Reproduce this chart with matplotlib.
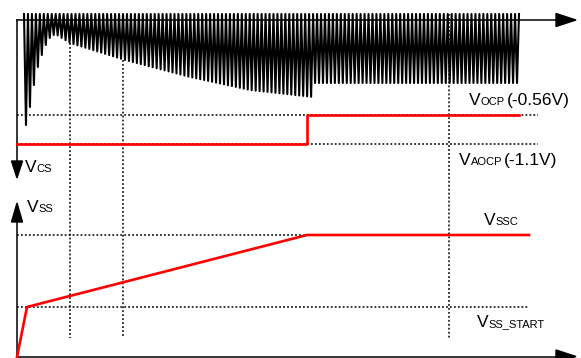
import numpy as np
import matplotlib.pyplot as plt

plt.rcParams['font.family'] = ['Liberation Sans', 'DejaVu Sans']

# Diagram units are pixels of the 581 x 358 picture (y grows downward)
W, H = 581, 358

# Axes of the two traces
x_origin = 17
x_axis_end = 576
y_cs_axis = 20           # time axis of V_CS (V_CS grows downward)
y_cs_arrow = 178
y_ss_axis = 357          # time axis of V_SS
y_ss_arrow = 203

# V_CS switching waveform
cs_start, cs_end = 24, 519
n_pulses = 125
cs_peak = 14
first_troughs = [125, 107, 85, 67, 55, 45, 38, 35]   # the deep first pulses
env_x = [57, 70, 125, 190, 250, 313]                  # trough envelope, soft start
env_y = [35, 43, 60, 77, 90, 97]
t_switch = 315                                        # after this: OCP level
trough_after = 83

# Protection levels
y_ocp = 115
y_aocp = 144
x_ocp_step = 307
x_ocp_end = 519
x_dot_end_top = 538

# Soft-start voltage
ss_t = [17, 27, 307, 529]
ss_v = [357, 307, 235, 235]
y_ssc = 235
y_ss_start = 307
x_dot_end_bot = 529

# Vertical markers
mark_x = [70, 123, 449]
mark_top = [43, 60, 14]
mark_bottom = 338

fig = plt.figure(figsize=(W / 100, H / 100), dpi=100)
ax = fig.add_axes([0, 0, 1, 1])
ax.set_xlim(0, W)
ax.set_ylim(H, 0)
ax.axis('off')

# axes with arrows
ax.plot([x_origin, 557], [y_cs_axis, y_cs_axis], color='black', lw=1.1, zorder=3)
ax.plot([x_origin, x_origin], [y_cs_axis, 162], color='black', lw=1.1, zorder=3)
ax.plot([x_origin, 557], [y_ss_axis - 0.5, y_ss_axis - 0.5], color='black', lw=1.1, zorder=3)
ax.plot([x_origin, x_origin], [y_ss_axis, 222], color='black', lw=1.1, zorder=3)
arrows = [
    [(x_axis_end, y_cs_axis), (556, 13.5), (556, 26.5)],
    [(x_origin, y_cs_arrow), (x_origin - 5.5, 161), (x_origin + 5.5, 161)],
    [(x_origin, y_ss_arrow), (x_origin - 5.5, 222), (x_origin + 5.5, 222)],
    [(x_axis_end, y_ss_axis - 0.5), (556, 350), (556, 363)],
]
for tri in arrows:
    ax.add_patch(plt.Polygon(tri, closed=True, color='black', zorder=3))

# dotted guides
dot = dict(color='black', lw=1.1, linestyle=(0, (1.2, 1.4)), zorder=1)
ax.plot([x_origin, x_dot_end_top], [y_ocp, y_ocp], **dot)
ax.plot([x_origin, x_dot_end_top], [y_aocp, y_aocp], **dot)
ax.plot([x_origin, x_dot_end_bot], [y_ssc, y_ssc], **dot)
ax.plot([x_origin, x_dot_end_bot], [y_ss_start, y_ss_start], **dot)
for mx, mt in zip(mark_x, mark_top):
    ax.plot([mx, mx], [mt, mark_bottom], **dot)

# V_CS pulses
starts = np.linspace(cs_start, cs_end, n_pulses + 1)[:-1]
period = starts[1] - starts[0]
xs, ys = [cs_start], [cs_peak]
for k, s in enumerate(starts):
    xm = s + period / 2
    if k < len(first_troughs):
        tr = first_troughs[k]
    elif xm < t_switch:
        tr = np.interp(xm, env_x, env_y)
    else:
        tr = trough_after
    xs += [xm, s + period]
    ys += [tr, cs_peak]
ax.plot(xs, ys, color='black', lw=1.5, zorder=2, solid_joinstyle='round')

# red traces
ax.plot([x_origin, x_ocp_step, x_ocp_step, x_ocp_end],
        [y_aocp, y_aocp, y_ocp, y_ocp], color='#ff0000', lw=1.9, zorder=4)
ax.plot(ss_t, ss_v, color='#ff0000', lw=1.9, zorder=4)

# labels with baseline subscripts
fig.canvas.draw()
rend = fig.canvas.get_renderer()


def label(x, y, parts):
    for s, size, gap in parts:
        t = ax.text(x, y, s, fontsize=size, ha='left', va='baseline', zorder=5)
        x += t.get_window_extent(rend).width + gap


big, small = 12.5, 8
label(469, 105, [('V', big, 0), ('OCP', small, 2), ('(-0.56V)', big, 0)])
label(459, 165, [('V', big, 0), ('AOCP', small, 2), ('(-1.1V)', big, 0)])
label(484, 225, [('V', big, 0), ('SSC', small, 0)])
label(477, 327, [('V', big, 0), ('SS_START', small, 0)])
label(25, 172, [('V', big, 0), ('CS', small, 0)])
label(27, 212, [('V', big, 0), ('SS', small, 0)])

fig.savefig('out.png', dpi=100)
